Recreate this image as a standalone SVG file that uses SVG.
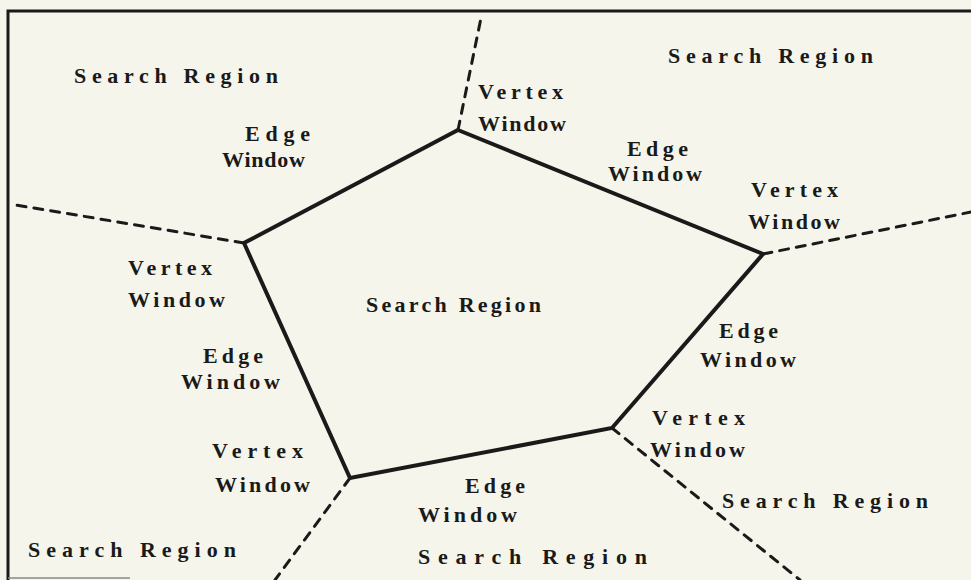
<svg xmlns="http://www.w3.org/2000/svg" width="971" height="580" viewBox="0 0 971 580">
<style>
text{font-family:"Liberation Serif","DejaVu Serif",serif;font-size:22px;fill:#1a1a1a;font-weight:bold}
.dash{stroke:#1a1a1a;stroke-width:3;stroke-dasharray:9 8;fill:none;stroke-linecap:round}
.edge{stroke:#1a1a1a;stroke-width:4;fill:none;stroke-linejoin:miter}
</style>
<rect width="971" height="580" fill="#f5f5eb"/>
<path d="M8,580 V11 H971" stroke="#1a1a1a" stroke-width="3" fill="none"/>
<line x1="8" y1="578" x2="130" y2="578" stroke="#888" stroke-width="1.5"/>
<g id="connectors">
<line class="dash" x1="458" y1="130" x2="481" y2="18"/>
<line class="dash" x1="244" y1="243" x2="10" y2="204"/>
<line class="dash" x1="763" y1="254" x2="971" y2="212"/>
<line class="dash" x1="612" y1="428" x2="800" y2="580"/>
<line class="dash" x1="350" y1="478" x2="275" y2="580"/>
</g>
<g id="pentagon">
<polygon class="edge" points="458,130 763,254 612,428 350,478 244,243"/>
</g>
<g id="search-regions">
<text x="74" y="83" textLength="204" lengthAdjust="spacing">Search Region</text>
<text x="668" y="63" textLength="205" lengthAdjust="spacing">Search Region</text>
<text x="366" y="312" textLength="175" lengthAdjust="spacing">Search Region</text>
<text x="722" y="508" textLength="206" lengthAdjust="spacing">Search Region</text>
<text x="28" y="557" textLength="208" lengthAdjust="spacing">Search Region</text>
<text x="418" y="564" textLength="229" lengthAdjust="spacing">Search Region</text>
</g>
<g id="vertex-windows">
<text x="478" y="99" textLength="85" lengthAdjust="spacing">Vertex</text>
<text x="478" y="131" textLength="88" lengthAdjust="spacing">Window</text>
<text x="751" y="197" textLength="87" lengthAdjust="spacing">Vertex</text>
<text x="748" y="229" textLength="92" lengthAdjust="spacing">Window</text>
<text x="128" y="275" textLength="84" lengthAdjust="spacing">Vertex</text>
<text x="128" y="307" textLength="97" lengthAdjust="spacing">Window</text>
<text x="652" y="425" textLength="93" lengthAdjust="spacing">Vertex</text>
<text x="650" y="457" textLength="95" lengthAdjust="spacing">Window</text>
<text x="212" y="458" textLength="91" lengthAdjust="spacing">Vertex</text>
<text x="215" y="492" textLength="95" lengthAdjust="spacing">Window</text>
</g>
<g id="edge-windows">
<text x="245" y="141" textLength="65" lengthAdjust="spacing">Edge</text>
<text x="222" y="167" textLength="83" lengthAdjust="spacing">Window</text>
<text x="627" y="156" textLength="61" lengthAdjust="spacing">Edge</text>
<text x="608" y="181" textLength="94" lengthAdjust="spacing">Window</text>
<text x="719" y="338" textLength="59" lengthAdjust="spacing">Edge</text>
<text x="700" y="367" textLength="96" lengthAdjust="spacing">Window</text>
<text x="203" y="363" textLength="60" lengthAdjust="spacing">Edge</text>
<text x="181" y="389" textLength="99" lengthAdjust="spacing">Window</text>
<text x="465" y="493" textLength="60" lengthAdjust="spacing">Edge</text>
<text x="418" y="522" textLength="99" lengthAdjust="spacing">Window</text>
</g>
</svg>
